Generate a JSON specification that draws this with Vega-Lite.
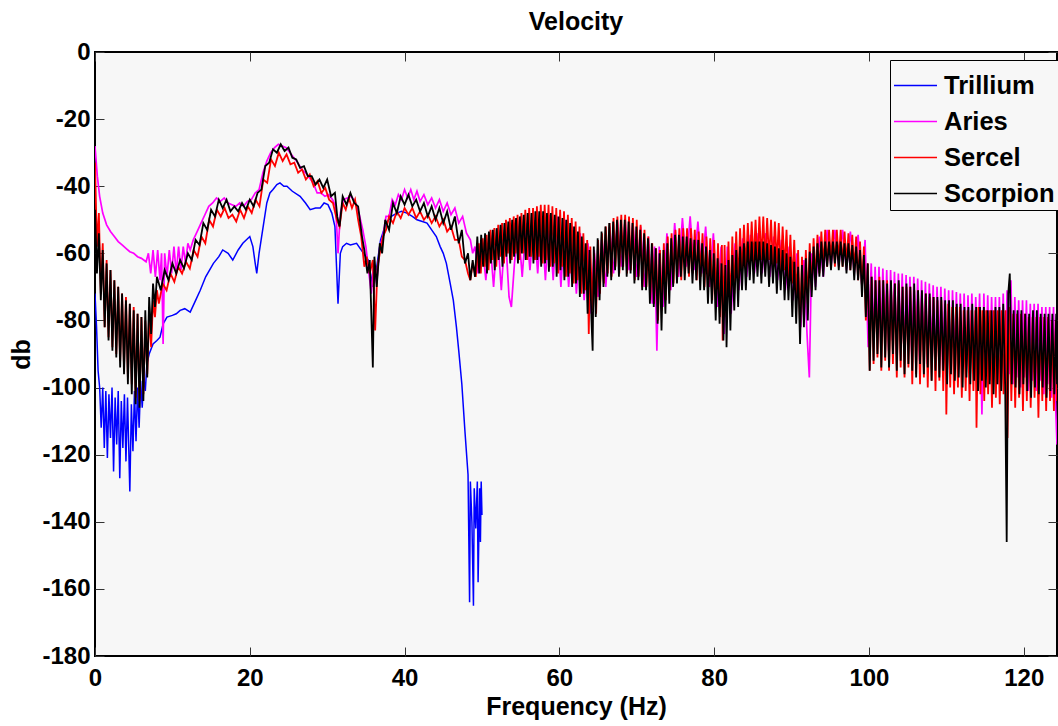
{
"$schema": "https://vega.github.io/schema/vega-lite/v6.json",
"width": 962,
"height": 604,
"autosize": "none",
"padding": {"left": 95, "top": 52, "right": 1, "bottom": 70},
"background": "white",
"title": {"text": "Velocity", "font": "Liberation Sans", "fontSize": 25, "fontWeight": "bold", "color": "black", "anchor": "middle", "baseline": "alphabetic", "offset": -15},
"config": {"view": {"fill": "#f7f7f7", "stroke": "black", "strokeWidth": 2}},
"datasets": {
"trillium": [
{"f":0,"v":-72},{"f":0.2,"v":-82},{"f":0.4,"v":-95},{"f":0.6,"v":-100},{"f":0.8,"v":-112},{"f":1.0,"v":-100},{"f":1.2,"v":-118},{"f":1.4,"v":-101},{"f":1.6,"v":-121},{"f":1.8,"v":-102},{"f":2.0,"v":-115},{"f":2.2,"v":-100},{"f":2.4,"v":-125},{"f":2.6,"v":-103},{"f":2.8,"v":-117},{"f":3.0,"v":-101},{"f":3.2,"v":-127},{"f":3.4,"v":-104},{"f":3.6,"v":-118},{"f":3.8,"v":-102},{"f":4.0,"v":-122},{"f":4.2,"v":-103},{"f":4.5,"v":-131},{"f":4.7,"v":-105},{"f":4.9,"v":-119},{"f":5.1,"v":-101},{"f":5.3,"v":-116},{"f":5.5,"v":-100},{"f":5.7,"v":-112},{"f":5.9,"v":-98},{"f":6.1,"v":-106},{"f":6.3,"v":-97},{"f":6.5,"v":-101},{"f":6.7,"v":-93},{"f":7.0,"v":-90},{"f":7.5,"v":-87},{"f":8.0,"v":-86},{"f":8.4,"v":-85},{"f":8.8,"v":-81},{"f":9.3,"v":-79},{"f":10.0,"v":-78.5},{"f":10.5,"v":-78},{"f":11.0,"v":-77},{"f":11.6,"v":-76.5},{"f":12.3,"v":-77.5},{"f":13.0,"v":-74},{"f":13.6,"v":-71},{"f":14.3,"v":-67},{"f":15.3,"v":-63},{"f":16.0,"v":-61},{"f":16.5,"v":-59},{"f":17.2,"v":-60},{"f":17.8,"v":-62},{"f":18.5,"v":-59},{"f":19.1,"v":-57},{"f":20.0,"v":-55},{"f":20.4,"v":-58},{"f":20.7,"v":-63},{"f":20.9,"v":-66},{"f":21.2,"v":-60},{"f":21.6,"v":-54},{"f":22.2,"v":-45},{"f":22.6,"v":-42},{"f":23.0,"v":-41},{"f":23.5,"v":-39.5},{"f":23.9,"v":-39},{"f":24.4,"v":-40},{"f":24.8,"v":-40},{"f":25.5,"v":-41.5},{"f":26.5,"v":-43},{"f":27.2,"v":-45},{"f":27.8,"v":-47},{"f":28.5,"v":-46.5},{"f":29.1,"v":-46.5},{"f":29.6,"v":-45},{"f":30.1,"v":-45.5},{"f":30.6,"v":-48},{"f":31.0,"v":-52},{"f":31.4,"v":-75},{"f":31.7,"v":-60},{"f":32.0,"v":-58},{"f":32.5,"v":-57},{"f":33.0,"v":-57.5},{"f":33.8,"v":-57},{"f":34.7,"v":-60},{"f":35.3,"v":-62},{"f":35.9,"v":-70},{"f":36.4,"v":-64},{"f":36.9,"v":-56},{"f":37.6,"v":-51},{"f":38.3,"v":-49},{"f":39.0,"v":-48},{"f":39.6,"v":-47.5},{"f":40.3,"v":-48},{"f":41.0,"v":-49},{"f":41.6,"v":-50},{"f":42.3,"v":-50.5},{"f":42.9,"v":-51},{"f":43.5,"v":-53},{"f":44.1,"v":-55},{"f":44.6,"v":-58},{"f":45.0,"v":-60},{"f":45.4,"v":-63},{"f":45.9,"v":-69},{"f":46.3,"v":-74},{"f":46.7,"v":-82},{"f":47.0,"v":-89},{"f":47.4,"v":-99},{"f":47.8,"v":-113},{"f":48.2,"v":-126},{"f":48.4,"v":-164},{"f":48.5,"v":-128},{"f":48.7,"v":-140},{"f":48.9,"v":-165},{"f":49.0,"v":-130},{"f":49.2,"v":-142},{"f":49.4,"v":-128},{"f":49.5,"v":-158},{"f":49.7,"v":-130},{"f":49.8,"v":-146},{"f":49.9,"v":-128},{"f":50.0,"v":-138}
],
"aries": [
{"f":0,"v":-28},{"f":0.3,"v":-37},{"f":0.6,"v":-43},{"f":1.0,"v":-48},{"f":1.5,"v":-51.5},{"f":2.0,"v":-53.5},{"f":2.5,"v":-55},{"f":3.0,"v":-56.5},{"f":3.5,"v":-57.5},{"f":4.0,"v":-58.5},{"f":4.5,"v":-59.5},{"f":5.0,"v":-60},{"f":5.5,"v":-61},{"f":6.0,"v":-61.5},{"f":6.6,"v":-62.5},{"f":6.9,"v":-60},{"f":7.2,"v":-66},{"f":7.5,"v":-59},{"f":7.8,"v":-67},{"f":8.1,"v":-59},{"f":8.4,"v":-68},{"f":8.6,"v":-60},{"f":8.8,"v":-87},{"f":9.0,"v":-60},{"f":9.3,"v":-67},{"f":9.6,"v":-59},{"f":9.9,"v":-66},{"f":10.2,"v":-58},{"f":10.5,"v":-66},{"f":10.8,"v":-58},{"f":11.1,"v":-65},{"f":11.4,"v":-58},{"f":11.7,"v":-63},{"f":12.0,"v":-57},{"f":12.3,"v":-59},{"f":12.7,"v":-56},{"f":13.2,"v":-53.5},{"f":13.7,"v":-51},{"f":14.2,"v":-48.5},{"f":14.7,"v":-46},{"f":15.2,"v":-45},{"f":15.7,"v":-43.5},{"f":16.2,"v":-44.5},{"f":16.7,"v":-43.5},{"f":17.2,"v":-45},{"f":17.7,"v":-45.5},{"f":18.2,"v":-46},{"f":18.7,"v":-45},{"f":19.2,"v":-46},{"f":19.7,"v":-44.5},{"f":20.2,"v":-44},{"f":20.7,"v":-42},{"f":21.2,"v":-41},{"f":21.7,"v":-36},{"f":22.2,"v":-32.5},{"f":22.7,"v":-30},{"f":23.2,"v":-28.5},{"f":23.7,"v":-27.5},{"f":24.2,"v":-28},{"f":24.7,"v":-28.5},{"f":25.2,"v":-30},{"f":25.7,"v":-31.5},{"f":26.2,"v":-33},{"f":26.7,"v":-35},{"f":27.2,"v":-36},{"f":27.7,"v":-37.5},{"f":28.2,"v":-39},{"f":28.7,"v":-42},{"f":29.2,"v":-42},{"f":29.7,"v":-43},{"f":30.2,"v":-42.5},{"f":30.7,"v":-44},{"f":31.1,"v":-46},{"f":31.4,"v":-60},{"f":31.7,"v":-48},{"f":32.1,"v":-44},{"f":32.6,"v":-43.5},{"f":33.1,"v":-43},{"f":33.6,"v":-44.5},{"f":34.1,"v":-48},{"f":34.6,"v":-53},{"f":35.0,"v":-58},{"f":35.4,"v":-66},{"f":35.7,"v":-72},{"f":36.0,"v":-63},{"f":36.4,"v":-69},{"f":36.8,"v":-58},{"f":37.2,"v":-55},{"f":37.6,"v":-49},{"f":38.0,"v":-49},{"f":38.4,"v":-44},{"f":38.8,"v":-45.5},{"f":39.2,"v":-42.5},{"f":39.6,"v":-44},{"f":40.0,"v":-41},{"f":40.4,"v":-43.5},{"f":40.8,"v":-41},{"f":41.2,"v":-44},{"f":41.6,"v":-41.5},{"f":42.0,"v":-44.5},{"f":42.5,"v":-42.5},{"f":43.0,"v":-45.5},{"f":43.5,"v":-43.5},{"f":44.0,"v":-46.5},{"f":44.5,"v":-44},{"f":45.0,"v":-47.5},{"f":45.5,"v":-45},{"f":46.0,"v":-48.5},{"f":46.5,"v":-46.5},{"f":47.0,"v":-51},{"f":47.5,"v":-49},{"f":48.0,"v":-54},{"f":48.5,"v":-56},{"f":48.8,"v":-60},{"f":49.1,"v":-58},{"f":49.5,"v":-66},{"f":50.0,"v":-56},{"f":50.5,"v":-68},{"f":51.0,"v":-55},{"f":51.5,"v":-70},{"f":52.0,"v":-54},{"f":52.5,"v":-71},{"f":53.0,"v":-53},{"f":53.5,"v":-73},{"f":53.8,"v":-76},{"f":54.2,"v":-63},{"f":54.7,"v":-52},{"f":55.2,"v":-67},{"f":55.7,"v":-51},{"f":56.2,"v":-65},{"f":56.7,"v":-50},{"f":57.2,"v":-66},{"f":57.7,"v":-49},{"f":58.2,"v":-68},{"f":58.7,"v":-48.5},{"f":59.2,"v":-68},{"f":59.7,"v":-49},{"f":60.2,"v":-70},{"f":60.7,"v":-50},{"f":61.2,"v":-70},{"f":61.7,"v":-52},{"f":62.2,"v":-72},{"f":62.7,"v":-54},{"f":63.2,"v":-74},{"f":63.7,"v":-57},{"f":64.1,"v":-78},{"f":64.5,"v":-59},{"f":65.0,"v":-73},{"f":65.5,"v":-55},{"f":66.0,"v":-70},{"f":66.5,"v":-52},{"f":67.0,"v":-66},{"f":67.5,"v":-50.5},{"f":68.0,"v":-64},{"f":68.5,"v":-50},{"f":69.0,"v":-65},{"f":69.5,"v":-50.5},{"f":70.0,"v":-67},{"f":70.5,"v":-52},{"f":71.0,"v":-70},{"f":71.5,"v":-55},{"f":72.0,"v":-75},{"f":72.3,"v":-58},{"f":72.6,"v":-89},{"f":72.9,"v":-58},{"f":73.4,"v":-76},{"f":73.9,"v":-54},{"f":74.4,"v":-71},{"f":74.9,"v":-51},{"f":75.4,"v":-67},{"f":75.9,"v":-49.5},{"f":76.4,"v":-64},{"f":76.9,"v":-49},{"f":77.4,"v":-65},{"f":77.9,"v":-50.5},{"f":78.4,"v":-66},{"f":78.9,"v":-52},{"f":79.4,"v":-70},{"f":79.9,"v":-54},{"f":80.4,"v":-76},{"f":80.9,"v":-58},{"f":81.3,"v":-84},{"f":81.7,"v":-58},{"f":82.2,"v":-78},{"f":82.7,"v":-57},{"f":83.2,"v":-71},{"f":83.7,"v":-55.5},{"f":84.2,"v":-67},{"f":84.7,"v":-54.5},{"f":85.2,"v":-66},{"f":85.7,"v":-54},{"f":86.2,"v":-66},{"f":86.7,"v":-54},{"f":87.2,"v":-67},{"f":87.7,"v":-55},{"f":88.2,"v":-68},{"f":88.7,"v":-56},{"f":89.2,"v":-71},{"f":89.7,"v":-58},{"f":90.2,"v":-74},{"f":90.7,"v":-60},{"f":91.2,"v":-82},{"f":91.6,"v":-62},{"f":92.0,"v":-84},{"f":92.3,"v":-97},{"f":92.6,"v":-60},{"f":93.1,"v":-70},{"f":93.6,"v":-55},{"f":94.1,"v":-67},{"f":94.6,"v":-53},{"f":95.1,"v":-64},{"f":95.6,"v":-53},{"f":96.1,"v":-64},{"f":96.6,"v":-53},{"f":97.1,"v":-65},{"f":97.6,"v":-53.5},{"f":98.1,"v":-66},{"f":98.6,"v":-54.5},{"f":99.1,"v":-70},{"f":99.5,"v":-56},{"f":99.9,"v":-88},
{"f":100.3,"v":-63},{"f":100.55,"v":-86},{"f":100.8,"v":-64},{"f":101.05,"v":-84},{"f":101.3,"v":-64},{"f":101.55,"v":-88},{"f":101.8,"v":-64.5},{"f":102.05,"v":-85},{"f":102.3,"v":-65},{"f":102.55,"v":-89},{"f":102.8,"v":-65},{"f":103.05,"v":-86},{"f":103.3,"v":-65.5},{"f":103.55,"v":-90},{"f":103.8,"v":-66},{"f":104.05,"v":-86},{"f":104.3,"v":-66},{"f":104.55,"v":-91},{"f":104.8,"v":-66.5},{"f":105.05,"v":-87},{"f":105.3,"v":-67},{"f":105.55,"v":-92},{"f":105.8,"v":-67},{"f":106.05,"v":-88},{"f":106.3,"v":-67.5},{"f":106.55,"v":-92},{"f":106.8,"v":-68},{"f":107.05,"v":-89},{"f":107.3,"v":-68.5},{"f":107.55,"v":-93},{"f":107.8,"v":-69},{"f":108.05,"v":-90},{"f":108.3,"v":-69.5},{"f":108.55,"v":-94},{"f":108.8,"v":-70},{"f":109.05,"v":-90},{"f":109.3,"v":-70},{"f":109.55,"v":-95},{"f":109.8,"v":-70.5},{"f":110.05,"v":-91},{"f":110.3,"v":-71},{"f":110.55,"v":-96},{"f":110.8,"v":-71},{"f":111.05,"v":-92},{"f":111.3,"v":-71.5},{"f":111.55,"v":-96},{"f":111.8,"v":-72},{"f":112.05,"v":-93},{"f":112.3,"v":-72},{"f":112.55,"v":-97},{"f":112.8,"v":-72.5},{"f":113.05,"v":-93},{"f":113.3,"v":-72},{"f":113.55,"v":-98},{"f":113.8,"v":-73},{"f":114.05,"v":-94},{"f":114.3,"v":-72},{"f":114.6,"v":-108},{"f":114.85,"v":-72},{"f":115.1,"v":-95},{"f":115.35,"v":-72.5},{"f":115.6,"v":-98},{"f":115.85,"v":-73},{"f":116.1,"v":-95},{"f":116.35,"v":-73},{"f":116.6,"v":-99},{"f":116.85,"v":-73},{"f":117.1,"v":-96},{"f":117.35,"v":-72},{"f":117.6,"v":-99},{"f":117.85,"v":-71},{"f":118.1,"v":-96},{"f":118.35,"v":-68},{"f":118.6,"v":-99},{"f":118.85,"v":-73},{"f":119.1,"v":-97},{"f":119.35,"v":-74},{"f":119.6,"v":-100},{"f":119.85,"v":-74},{"f":120.1,"v":-97},{"f":120.35,"v":-74},{"f":120.6,"v":-101},{"f":120.85,"v":-75},{"f":121.1,"v":-98},{"f":121.35,"v":-75},{"f":121.6,"v":-101},{"f":121.85,"v":-75},{"f":122.1,"v":-98},{"f":122.35,"v":-76},{"f":122.6,"v":-102},{"f":122.85,"v":-76},{"f":123.1,"v":-99},{"f":123.35,"v":-76},{"f":123.6,"v":-103},{"f":123.85,"v":-76},{"f":124.1,"v":-104},{"f":124.3,"v":-117}
],
"sercel": [
{"f":0,"v":-33},{"f":0.25,"v":-58},{"f":0.5,"v":-48},{"f":0.75,"v":-72},{"f":1.0,"v":-57},{"f":1.25,"v":-82},{"f":1.5,"v":-62},{"f":1.75,"v":-85},{"f":2.0,"v":-65},{"f":2.25,"v":-88},{"f":2.5,"v":-68},{"f":2.75,"v":-90},{"f":3.0,"v":-70},{"f":3.25,"v":-92},{"f":3.5,"v":-72},{"f":3.75,"v":-94},{"f":4.0,"v":-73},{"f":4.25,"v":-97},{"f":4.5,"v":-75},{"f":4.75,"v":-99},{"f":5.0,"v":-76},{"f":5.25,"v":-103},{"f":5.5,"v":-78},{"f":5.75,"v":-104},{"f":6.0,"v":-79},{"f":6.25,"v":-102},{"f":6.5,"v":-80},{"f":6.75,"v":-96},{"f":7.0,"v":-78},{"f":7.25,"v":-88},{"f":7.5,"v":-74},{"f":7.75,"v":-79},{"f":8.0,"v":-71},{"f":8.25,"v":-75},{"f":8.75,"v":-69},{"f":9.25,"v":-71},{"f":9.75,"v":-66},{"f":10.25,"v":-68.5},{"f":10.75,"v":-64},{"f":11.25,"v":-66},{"f":11.75,"v":-62.5},{"f":12.25,"v":-64.5},{"f":12.75,"v":-59},{"f":13.25,"v":-61},{"f":13.75,"v":-55},{"f":14.25,"v":-57},{"f":14.75,"v":-50},{"f":15.25,"v":-52},{"f":15.75,"v":-47},{"f":16.25,"v":-49},{"f":16.75,"v":-46.5},{"f":17.25,"v":-49.5},{"f":17.75,"v":-48.5},{"f":18.25,"v":-50.5},{"f":18.75,"v":-47},{"f":19.25,"v":-49.5},{"f":19.75,"v":-46},{"f":20.25,"v":-48},{"f":20.75,"v":-44},{"f":21.25,"v":-46},{"f":21.75,"v":-38},{"f":22.25,"v":-39},{"f":22.75,"v":-32},{"f":23.25,"v":-34},{"f":23.75,"v":-30},{"f":24.25,"v":-32.5},{"f":24.75,"v":-30.5},{"f":25.25,"v":-33.5},{"f":25.75,"v":-33},{"f":26.25,"v":-36},{"f":26.75,"v":-35},{"f":27.25,"v":-38},{"f":27.75,"v":-36.5},{"f":28.25,"v":-40},{"f":28.75,"v":-38.5},{"f":29.25,"v":-42},{"f":29.75,"v":-40.5},{"f":30.25,"v":-44},{"f":30.75,"v":-45},{"f":31.25,"v":-50},{"f":31.6,"v":-52},{"f":32.0,"v":-45},{"f":32.4,"v":-47},{"f":32.8,"v":-43.5},{"f":33.2,"v":-46.5},{"f":33.6,"v":-44},{"f":34.0,"v":-50},{"f":34.4,"v":-55},{"f":34.8,"v":-64},{"f":35.1,"v":-61},{"f":35.5,"v":-66},{"f":35.9,"v":-62},{"f":36.2,"v":-83},{"f":36.5,"v":-64},{"f":36.8,"v":-60},{"f":37.2,"v":-55},{"f":37.6,"v":-53},{"f":38.0,"v":-49},{"f":38.5,"v":-51},{"f":39.0,"v":-47.5},{"f":39.5,"v":-49.5},{"f":40.0,"v":-46.5},{"f":40.5,"v":-48.5},{"f":41.0,"v":-46.5},{"f":41.5,"v":-49.5},{"f":42.0,"v":-47.5},{"f":42.5,"v":-50},{"f":43.0,"v":-48.5},{"f":43.5,"v":-51},{"f":44.0,"v":-49},{"f":44.5,"v":-52},{"f":45.0,"v":-50},{"f":45.5,"v":-53.5},{"f":46.0,"v":-52},{"f":46.5,"v":-56},{"f":47.0,"v":-56},{"f":47.4,"v":-61},{"f":47.8,"v":-62},{"f":48.2,"v":-66},{"f":48.5,"v":-68},{"f":48.8,"v":-63},{"f":49.2,"v":-67},
{"f":49.6,"v":-57},{"f":49.85,"v":-66},{"f":50.1,"v":-55.5},{"f":50.35,"v":-64},{"f":50.6,"v":-54.5},{"f":50.85,"v":-65},{"f":51.1,"v":-53},{"f":51.35,"v":-62},{"f":51.6,"v":-52.5},{"f":51.85,"v":-64},{"f":52.1,"v":-51.5},{"f":52.35,"v":-61},{"f":52.6,"v":-51},{"f":52.85,"v":-63},{"f":53.1,"v":-50},{"f":53.35,"v":-60},{"f":53.6,"v":-49.5},{"f":53.85,"v":-62},{"f":54.1,"v":-49},{"f":54.35,"v":-60},{"f":54.6,"v":-48.5},{"f":54.85,"v":-62},{"f":55.1,"v":-48},{"f":55.35,"v":-60},{"f":55.6,"v":-47},{"f":55.85,"v":-62},{"f":56.1,"v":-46.5},{"f":56.35,"v":-61},{"f":56.6,"v":-46.5},{"f":56.85,"v":-62},{"f":57.1,"v":-46},{"f":57.35,"v":-61},{"f":57.6,"v":-45.5},{"f":57.85,"v":-63},{"f":58.1,"v":-45.5},{"f":58.35,"v":-62},{"f":58.6,"v":-45.5},{"f":58.85,"v":-64},{"f":59.1,"v":-46},{"f":59.35,"v":-63},{"f":59.6,"v":-46.5},{"f":59.85,"v":-66},{"f":60.1,"v":-47},{"f":60.35,"v":-64},{"f":60.6,"v":-47.5},{"f":60.85,"v":-67},{"f":61.1,"v":-48.5},{"f":61.35,"v":-66},{"f":61.6,"v":-49.5},{"f":61.85,"v":-69},{"f":62.1,"v":-50.5},{"f":62.35,"v":-68},{"f":62.6,"v":-52},{"f":62.85,"v":-72},{"f":63.1,"v":-54},{"f":63.35,"v":-71},{"f":63.6,"v":-56},{"f":63.8,"v":-84},{"f":64.0,"v":-58},{"f":64.25,"v":-77},{"f":64.5,"v":-60},{"f":64.75,"v":-78},{"f":65.0,"v":-56},{"f":65.25,"v":-72},{"f":65.5,"v":-54},{"f":65.75,"v":-69},{"f":66.0,"v":-52},{"f":66.25,"v":-66},{"f":66.5,"v":-51},{"f":66.75,"v":-67},{"f":67.0,"v":-49.5},{"f":67.25,"v":-64},{"f":67.5,"v":-49},{"f":67.75,"v":-66},{"f":68.0,"v":-48.5},{"f":68.25,"v":-64},{"f":68.5,"v":-48.5},{"f":68.75,"v":-66},{"f":69.0,"v":-49},{"f":69.25,"v":-65},{"f":69.5,"v":-49.5},{"f":69.75,"v":-68},{"f":70.0,"v":-50},{"f":70.25,"v":-67},{"f":70.5,"v":-51.5},{"f":70.75,"v":-70},{"f":71.0,"v":-53},{"f":71.25,"v":-70},{"f":71.5,"v":-55},{"f":71.75,"v":-74},{"f":72.0,"v":-57},{"f":72.25,"v":-75},{"f":72.5,"v":-58.5},{"f":72.75,"v":-80},{"f":73.0,"v":-59},{"f":73.25,"v":-77},{"f":73.5,"v":-57},{"f":73.75,"v":-74},{"f":74.0,"v":-55},{"f":74.25,"v":-71},{"f":74.5,"v":-54},{"f":74.75,"v":-69},{"f":75.0,"v":-53},{"f":75.25,"v":-67},{"f":75.5,"v":-52.5},{"f":75.75,"v":-68},{"f":76.0,"v":-52.5},{"f":76.25,"v":-66},{"f":76.5,"v":-52.5},{"f":76.75,"v":-67},{"f":77.0,"v":-52.5},{"f":77.25,"v":-66},{"f":77.5,"v":-53},{"f":77.75,"v":-68},{"f":78.0,"v":-53.5},{"f":78.25,"v":-67},{"f":78.5,"v":-54},{"f":78.75,"v":-70},{"f":79.0,"v":-55},{"f":79.25,"v":-70},{"f":79.5,"v":-55.5},{"f":79.75,"v":-74},{"f":80.0,"v":-56},{"f":80.25,"v":-74},{"f":80.5,"v":-57},{"f":80.75,"v":-79},{"f":81.0,"v":-57.5},{"f":81.1,"v":-86},{"f":81.35,"v":-57.5},{"f":81.6,"v":-79},{"f":81.85,"v":-56.5},{"f":82.1,"v":-76},{"f":82.35,"v":-55},{"f":82.6,"v":-72},{"f":82.85,"v":-53.5},{"f":83.1,"v":-69},{"f":83.35,"v":-52.5},{"f":83.6,"v":-67},{"f":83.85,"v":-51.5},{"f":84.1,"v":-65},{"f":84.35,"v":-51},{"f":84.6,"v":-64},{"f":84.85,"v":-50.5},{"f":85.1,"v":-63},{"f":85.35,"v":-50},{"f":85.6,"v":-63},{"f":85.85,"v":-49},{"f":86.1,"v":-62},{"f":86.35,"v":-49},{"f":86.6,"v":-63},{"f":86.85,"v":-49.5},{"f":87.1,"v":-62},{"f":87.35,"v":-50},{"f":87.6,"v":-64},{"f":87.85,"v":-50.5},{"f":88.1,"v":-63},{"f":88.35,"v":-51},{"f":88.6,"v":-66},{"f":88.85,"v":-52},{"f":89.1,"v":-65},{"f":89.35,"v":-53},{"f":89.6,"v":-68},{"f":89.85,"v":-54.5},{"f":90.1,"v":-69},{"f":90.35,"v":-56},{"f":90.6,"v":-74},{"f":90.85,"v":-59},{"f":91.1,"v":-82},{"f":91.35,"v":-61},{"f":91.6,"v":-79},{"f":91.85,"v":-59},{"f":92.1,"v":-75},{"f":92.35,"v":-57},{"f":92.6,"v":-71},{"f":92.85,"v":-55.5},{"f":93.1,"v":-68},{"f":93.35,"v":-54.5},{"f":93.6,"v":-66},{"f":93.85,"v":-53.5},{"f":94.1,"v":-64},{"f":94.35,"v":-53},{"f":94.6,"v":-64},{"f":94.85,"v":-53},{"f":95.1,"v":-62},{"f":95.35,"v":-53},{"f":95.6,"v":-64},{"f":95.85,"v":-53},{"f":96.1,"v":-62},{"f":96.35,"v":-53},{"f":96.6,"v":-64},{"f":96.85,"v":-53.5},{"f":97.1,"v":-63},{"f":97.35,"v":-54},{"f":97.6,"v":-65},{"f":97.85,"v":-54.5},{"f":98.1,"v":-65},{"f":98.35,"v":-55},{"f":98.6,"v":-68},{"f":98.85,"v":-56.5},{"f":99.1,"v":-70},{"f":99.35,"v":-58},{"f":99.6,"v":-80},{"f":99.85,"v":-63},{"f":100.1,"v":-95},
{"f":100.35,"v":-67},{"f":100.6,"v":-93},{"f":100.85,"v":-68},{"f":101.1,"v":-91},{"f":101.35,"v":-67},{"f":101.6,"v":-95},{"f":101.85,"v":-68},{"f":102.1,"v":-92},{"f":102.35,"v":-68},{"f":102.6,"v":-95},{"f":102.85,"v":-69},{"f":103.1,"v":-93},{"f":103.35,"v":-69},{"f":103.6,"v":-97},{"f":103.85,"v":-69},{"f":104.1,"v":-94},{"f":104.35,"v":-70},{"f":104.6,"v":-97},{"f":104.85,"v":-70},{"f":105.1,"v":-94},{"f":105.35,"v":-70},{"f":105.6,"v":-99},{"f":105.85,"v":-71},{"f":106.1,"v":-96},{"f":106.35,"v":-71},{"f":106.6,"v":-99},{"f":106.85,"v":-72},{"f":107.1,"v":-97},{"f":107.35,"v":-72},{"f":107.6,"v":-100},{"f":107.85,"v":-73},{"f":108.1,"v":-98},{"f":108.35,"v":-73},{"f":108.6,"v":-101},{"f":108.85,"v":-74},{"f":109.1,"v":-98},{"f":109.35,"v":-74},{"f":109.6,"v":-101},{"f":109.85,"v":-75},{"f":110.0,"v":-108},{"f":110.25,"v":-75},{"f":110.5,"v":-100},{"f":110.75,"v":-76},{"f":111.0,"v":-102},{"f":111.25,"v":-76},{"f":111.5,"v":-100},{"f":111.75,"v":-76},{"f":112.0,"v":-103},{"f":112.25,"v":-77},{"f":112.5,"v":-101},{"f":112.75,"v":-77},{"f":113.0,"v":-104},{"f":113.25,"v":-77},{"f":113.5,"v":-101},{"f":113.75,"v":-77},{"f":113.9,"v":-112},{"f":114.15,"v":-76},{"f":114.4,"v":-102},{"f":114.65,"v":-77},{"f":114.9,"v":-104},{"f":115.15,"v":-77},{"f":115.4,"v":-102},{"f":115.65,"v":-77},{"f":115.9,"v":-106},{"f":116.15,"v":-77},{"f":116.4,"v":-103},{"f":116.65,"v":-77},{"f":116.9,"v":-105},{"f":117.15,"v":-77},{"f":117.4,"v":-102},{"f":117.65,"v":-77},{"f":117.9,"v":-115},{"f":118.15,"v":-76},{"f":118.4,"v":-104},{"f":118.65,"v":-78},{"f":118.9,"v":-106},{"f":119.15,"v":-78},{"f":119.4,"v":-103},{"f":119.65,"v":-78},{"f":119.9,"v":-107},{"f":120.15,"v":-78},{"f":120.4,"v":-104},{"f":120.65,"v":-79},{"f":120.9,"v":-106},{"f":121.15,"v":-79},{"f":121.4,"v":-103},{"f":121.65,"v":-79},{"f":121.9,"v":-109},{"f":122.15,"v":-79},{"f":122.4,"v":-104},{"f":122.65,"v":-79},{"f":122.9,"v":-107},{"f":123.15,"v":-79},{"f":123.4,"v":-104},{"f":123.65,"v":-80},{"f":123.9,"v":-107},{"f":124.15,"v":-80},{"f":124.3,"v":-104}
],
"scorpion": [
{"f":0,"v":-47},{"f":0.25,"v":-66},{"f":0.5,"v":-54},{"f":0.75,"v":-74},{"f":1.0,"v":-59},{"f":1.25,"v":-82},{"f":1.5,"v":-63},{"f":1.75,"v":-86},{"f":2.0,"v":-65},{"f":2.25,"v":-89},{"f":2.5,"v":-68},{"f":2.75,"v":-91},{"f":3.0,"v":-70},{"f":3.25,"v":-94},{"f":3.5,"v":-72},{"f":3.75,"v":-96},{"f":4.0,"v":-74},{"f":4.25,"v":-99},{"f":4.5,"v":-75},{"f":4.75,"v":-102},{"f":5.0,"v":-77},{"f":5.25,"v":-105},{"f":5.5,"v":-78},{"f":5.75,"v":-106},{"f":6.0,"v":-79},{"f":6.25,"v":-104},{"f":6.5,"v":-77},{"f":6.75,"v":-97},{"f":7.0,"v":-73},{"f":7.25,"v":-84},{"f":7.5,"v":-69},{"f":7.75,"v":-76},{"f":8.0,"v":-67},{"f":8.5,"v":-71},{"f":9.0,"v":-65},{"f":9.5,"v":-68},{"f":10.0,"v":-63},{"f":10.5,"v":-66},{"f":11.0,"v":-62},{"f":11.5,"v":-64.5},{"f":12.0,"v":-60},{"f":12.5,"v":-62},{"f":13.0,"v":-56},{"f":13.5,"v":-57.5},{"f":14.0,"v":-51},{"f":14.5,"v":-53},{"f":15.0,"v":-47},{"f":15.5,"v":-49},{"f":16.0,"v":-44},{"f":16.5,"v":-46.5},{"f":17.0,"v":-44},{"f":17.5,"v":-47.5},{"f":18.0,"v":-46},{"f":18.5,"v":-47.5},{"f":19.0,"v":-45},{"f":19.5,"v":-47},{"f":20.0,"v":-44},{"f":20.5,"v":-46},{"f":21.0,"v":-42},{"f":21.5,"v":-41},{"f":22.0,"v":-34},{"f":22.5,"v":-33},{"f":23.0,"v":-29},{"f":23.5,"v":-30},{"f":24.0,"v":-27.5},{"f":24.5,"v":-29.5},{"f":25.0,"v":-28.5},{"f":25.5,"v":-31.5},{"f":26.0,"v":-32},{"f":26.5,"v":-34.5},{"f":27.0,"v":-34},{"f":27.5,"v":-37},{"f":28.0,"v":-37},{"f":28.5,"v":-39.5},{"f":29.0,"v":-38},{"f":29.5,"v":-40.5},{"f":30.0,"v":-38},{"f":30.5,"v":-43},{"f":31.0,"v":-42},{"f":31.3,"v":-49},{"f":31.6,"v":-52},{"f":32.0,"v":-43},{"f":32.5,"v":-45.5},{"f":33.0,"v":-42},{"f":33.5,"v":-45},{"f":34.0,"v":-46},{"f":34.5,"v":-55},{"f":34.8,"v":-59},{"f":35.2,"v":-66},{"f":35.5,"v":-62},{"f":35.9,"v":-94},{"f":36.1,"v":-61},{"f":36.4,"v":-70},{"f":36.8,"v":-57},{"f":37.1,"v":-60},{"f":37.5,"v":-50},{"f":38.0,"v":-53},{"f":38.5,"v":-45},{"f":39.0,"v":-48},{"f":39.5,"v":-43},{"f":40.0,"v":-45.5},{"f":40.5,"v":-42.5},{"f":41.0,"v":-46},{"f":41.5,"v":-44},{"f":42.0,"v":-47.5},{"f":42.5,"v":-45},{"f":43.0,"v":-49},{"f":43.5,"v":-46},{"f":44.0,"v":-50},{"f":44.5,"v":-46.5},{"f":45.0,"v":-51},{"f":45.5,"v":-47.5},{"f":46.0,"v":-53},{"f":46.5,"v":-49},{"f":47.0,"v":-57},{"f":47.4,"v":-53},{"f":47.8,"v":-63},{"f":48.2,"v":-60},{"f":48.5,"v":-68},{"f":48.8,"v":-62},{"f":49.1,"v":-67},
{"f":49.4,"v":-55},{"f":49.65,"v":-66},{"f":49.9,"v":-54.5},{"f":50.15,"v":-64},{"f":50.4,"v":-54},{"f":50.65,"v":-66},{"f":50.9,"v":-53.5},{"f":51.15,"v":-63},{"f":51.4,"v":-53},{"f":51.65,"v":-65},{"f":51.9,"v":-52.5},{"f":52.15,"v":-62},{"f":52.4,"v":-51.5},{"f":52.65,"v":-64},{"f":52.9,"v":-51},{"f":53.15,"v":-61},{"f":53.4,"v":-50.5},{"f":53.65,"v":-63},{"f":53.9,"v":-50},{"f":54.15,"v":-61},{"f":54.4,"v":-49.5},{"f":54.65,"v":-63},{"f":54.9,"v":-49},{"f":55.15,"v":-60},{"f":55.4,"v":-48.5},{"f":55.65,"v":-62},{"f":55.9,"v":-48},{"f":56.15,"v":-61},{"f":56.4,"v":-48},{"f":56.65,"v":-63},{"f":56.9,"v":-47.5},{"f":57.15,"v":-62},{"f":57.4,"v":-47.5},{"f":57.65,"v":-64},{"f":57.9,"v":-47.5},{"f":58.15,"v":-63},{"f":58.4,"v":-48},{"f":58.65,"v":-65.5},{"f":58.9,"v":-48},{"f":59.15,"v":-64},{"f":59.4,"v":-48.5},{"f":59.65,"v":-67},{"f":59.9,"v":-49},{"f":60.15,"v":-65},{"f":60.4,"v":-49.5},{"f":60.65,"v":-68},{"f":60.9,"v":-50},{"f":61.15,"v":-67},{"f":61.4,"v":-51},{"f":61.65,"v":-70},{"f":61.9,"v":-52},{"f":62.15,"v":-69},{"f":62.4,"v":-53.5},{"f":62.65,"v":-73},{"f":62.9,"v":-55},{"f":63.15,"v":-72},{"f":63.4,"v":-57},{"f":63.65,"v":-78},{"f":63.9,"v":-59},{"f":64.15,"v":-80},{"f":64.3,"v":-89},{"f":64.45,"v":-58},{"f":64.7,"v":-79},{"f":64.95,"v":-55.5},{"f":65.2,"v":-74},{"f":65.45,"v":-53.5},{"f":65.7,"v":-70},{"f":65.95,"v":-52},{"f":66.2,"v":-67},{"f":66.45,"v":-51},{"f":66.7,"v":-68},{"f":66.95,"v":-50.5},{"f":67.2,"v":-65},{"f":67.45,"v":-50},{"f":67.7,"v":-67},{"f":67.95,"v":-50},{"f":68.2,"v":-65},{"f":68.45,"v":-50},{"f":68.7,"v":-67},{"f":68.95,"v":-50.5},{"f":69.2,"v":-66},{"f":69.45,"v":-51},{"f":69.7,"v":-69},{"f":69.95,"v":-52},{"f":70.2,"v":-68},{"f":70.45,"v":-53},{"f":70.7,"v":-71},{"f":70.95,"v":-54},{"f":71.2,"v":-71},{"f":71.45,"v":-55.5},{"f":71.7,"v":-75},{"f":71.95,"v":-57},{"f":72.2,"v":-76},{"f":72.45,"v":-58.5},{"f":72.7,"v":-81},{"f":72.95,"v":-60},{"f":73.2,"v":-83},{"f":73.45,"v":-59},{"f":73.7,"v":-78},{"f":73.95,"v":-57},{"f":74.2,"v":-75},{"f":74.45,"v":-55.5},{"f":74.7,"v":-70},{"f":74.95,"v":-54.5},{"f":75.2,"v":-69},{"f":75.45,"v":-54.5},{"f":75.7,"v":-67},{"f":75.95,"v":-55},{"f":76.2,"v":-68},{"f":76.45,"v":-55},{"f":76.7,"v":-66},{"f":76.95,"v":-55.5},{"f":77.2,"v":-69},{"f":77.45,"v":-56},{"f":77.7,"v":-68},{"f":77.95,"v":-56},{"f":78.2,"v":-71},{"f":78.45,"v":-57},{"f":78.7,"v":-71},{"f":78.95,"v":-58},{"f":79.2,"v":-75},{"f":79.45,"v":-59},{"f":79.7,"v":-75},{"f":79.95,"v":-60},{"f":80.2,"v":-80},{"f":80.45,"v":-61.5},{"f":80.7,"v":-81},{"f":80.95,"v":-63},{"f":81.2,"v":-86},{"f":81.45,"v":-63.5},{"f":81.6,"v":-88},{"f":81.85,"v":-62},{"f":82.1,"v":-83},{"f":82.35,"v":-60.5},{"f":82.6,"v":-77},{"f":82.85,"v":-59},{"f":83.1,"v":-76},{"f":83.35,"v":-58},{"f":83.6,"v":-71},{"f":83.85,"v":-57},{"f":84.1,"v":-71},{"f":84.35,"v":-56.5},{"f":84.6,"v":-68},{"f":84.85,"v":-56.5},{"f":85.1,"v":-69},{"f":85.35,"v":-56.5},{"f":85.6,"v":-67},{"f":85.85,"v":-56.5},{"f":86.1,"v":-69},{"f":86.35,"v":-56.5},{"f":86.6,"v":-67},{"f":86.85,"v":-57},{"f":87.1,"v":-70},{"f":87.35,"v":-57.5},{"f":87.6,"v":-69},{"f":87.85,"v":-58},{"f":88.1,"v":-72},{"f":88.35,"v":-58.5},{"f":88.6,"v":-71},{"f":88.85,"v":-59},{"f":89.1,"v":-74},{"f":89.35,"v":-60},{"f":89.6,"v":-74},{"f":89.85,"v":-61},{"f":90.1,"v":-79},{"f":90.35,"v":-62.5},{"f":90.6,"v":-81},{"f":90.85,"v":-64},{"f":91.1,"v":-87},{"f":91.35,"v":-63.5},{"f":91.6,"v":-82},{"f":91.85,"v":-61.5},{"f":92.1,"v":-80},{"f":92.35,"v":-59.5},{"f":92.6,"v":-73},{"f":92.85,"v":-58},{"f":93.1,"v":-71},{"f":93.35,"v":-57},{"f":93.6,"v":-67},{"f":93.85,"v":-56.5},{"f":94.1,"v":-67},{"f":94.35,"v":-56.5},{"f":94.6,"v":-64},{"f":94.85,"v":-56.5},{"f":95.1,"v":-65},{"f":95.35,"v":-56.5},{"f":95.6,"v":-63},{"f":95.85,"v":-56.5},{"f":96.1,"v":-65},{"f":96.35,"v":-56.5},{"f":96.6,"v":-64},{"f":96.85,"v":-57},{"f":97.1,"v":-66},{"f":97.35,"v":-57},{"f":97.6,"v":-65},{"f":97.85,"v":-57.5},{"f":98.1,"v":-68},{"f":98.35,"v":-58},{"f":98.6,"v":-68},{"f":98.85,"v":-59},{"f":99.1,"v":-73},{"f":99.35,"v":-60.5},{"f":99.6,"v":-79},{"f":99.85,"v":-63},{"f":100.1,"v":-95},{"f":100.35,"v":-67},{"f":100.6,"v":-92},{"f":100.85,"v":-68},{"f":101.1,"v":-90},{"f":101.35,"v":-68},{"f":101.6,"v":-94},{"f":101.85,"v":-68},{"f":102.1,"v":-91},{"f":102.35,"v":-69},{"f":102.6,"v":-94},{"f":102.85,"v":-68},{"f":103.1,"v":-90},{"f":103.35,"v":-69},{"f":103.6,"v":-95},{"f":103.85,"v":-68},{"f":104.1,"v":-92},{"f":104.35,"v":-70},{"f":104.6,"v":-96},{"f":104.85,"v":-69},{"f":105.1,"v":-93},{"f":105.35,"v":-70},{"f":105.6,"v":-95},{"f":105.85,"v":-69},{"f":106.1,"v":-97},{"f":106.35,"v":-71},{"f":106.6,"v":-93},{"f":106.85,"v":-71},{"f":107.1,"v":-96},{"f":107.35,"v":-72},{"f":107.6,"v":-94},{"f":107.85,"v":-72},{"f":108.1,"v":-98},{"f":108.35,"v":-73},{"f":108.6,"v":-95},{"f":108.85,"v":-73},{"f":109.1,"v":-97},{"f":109.35,"v":-73},{"f":109.6,"v":-95},{"f":109.85,"v":-74},{"f":110.1,"v":-99},{"f":110.35,"v":-74},{"f":110.6,"v":-96},{"f":110.85,"v":-74},{"f":111.1,"v":-98},{"f":111.35,"v":-75},{"f":111.6,"v":-97},{"f":111.85,"v":-75},{"f":112.1,"v":-100},{"f":112.35,"v":-76},{"f":112.6,"v":-97},{"f":112.85,"v":-76},{"f":113.1,"v":-99},{"f":113.35,"v":-75},{"f":113.6,"v":-98},{"f":113.85,"v":-76},{"f":114.1,"v":-101},{"f":114.35,"v":-76},{"f":114.6,"v":-98},{"f":114.85,"v":-76},{"f":115.1,"v":-100},{"f":115.35,"v":-77},{"f":115.6,"v":-99},{"f":115.85,"v":-77},{"f":116.1,"v":-102},{"f":116.35,"v":-76},{"f":116.6,"v":-99},{"f":116.85,"v":-76},{"f":117.1,"v":-101},{"f":117.35,"v":-75},{"f":117.6,"v":-99},{"f":117.8,"v":-146},{"f":118.0,"v":-72},{"f":118.2,"v":-66},{"f":118.45,"v":-99},{"f":118.7,"v":-77},{"f":118.95,"v":-100},{"f":119.2,"v":-77},{"f":119.45,"v":-102},{"f":119.7,"v":-77},{"f":119.95,"v":-99},{"f":120.2,"v":-78},{"f":120.45,"v":-101},{"f":120.7,"v":-78},{"f":120.95,"v":-103},{"f":121.2,"v":-77},{"f":121.45,"v":-100},{"f":121.7,"v":-77},{"f":121.95,"v":-102},{"f":122.2,"v":-78},{"f":122.45,"v":-100},{"f":122.7,"v":-78},{"f":122.95,"v":-103},{"f":123.2,"v":-78},{"f":123.45,"v":-101},{"f":123.7,"v":-78},{"f":123.95,"v":-102},{"f":124.2,"v":-78},{"f":124.3,"v":-99}
]
},
"layer": [
{
"data": {"name": "trillium"},
"mark": {"type": "line", "strokeWidth": 1.5, "clip": true},
"encoding": {
"x": {"field": "f", "type": "quantitative", "scale": {"domain": [0, 124.3], "nice": false, "zero": false},
"axis": {"orient": "bottom", "values": [0, 20, 40, 60, 80, 100, 120], "title": "Frequency (Hz)", "titleFont": "Liberation Sans", "titleFontSize": 25, "titleFontWeight": "bold", "titleColor": "black", "titlePadding": 4, "labelFont": "Liberation Sans", "labelFontSize": 24, "labelFontWeight": "bold", "labelColor": "black", "labelPadding": 19, "labelFlush": false, "labelOverlap": false, "tickSize": -9, "tickColor": "#333333", "tickWidth": 1, "domain": false, "grid": false}},
"y": {"field": "v", "type": "quantitative", "scale": {"domain": [-180, 0], "nice": false, "zero": false},
"axis": {"orient": "left", "values": [-180, -160, -140, -120, -100, -80, -60, -40, -20, 0], "labelExpr": "'' + datum.value", "title": "db", "titleFont": "Liberation Sans", "titleFontSize": 25, "titleFontWeight": "bold", "titleColor": "black", "titlePadding": 7, "labelFont": "Liberation Sans", "labelFontSize": 24, "labelFontWeight": "bold", "labelColor": "black", "labelPadding": 14, "labelFlush": false, "labelOverlap": false, "tickSize": -9, "tickColor": "#333333", "tickWidth": 1, "domain": false, "grid": false}},
"color": {"datum": "Trillium", "type": "nominal",
"scale": {"domain": ["Trillium", "Aries", "Sercel", "Scorpion"], "range": ["#0000ff", "#ff00ff", "#ff0000", "#000000"]},
"legend": {"orient": "none", "legendX": 795, "legendY": 8, "title": null, "direction": "vertical", "strokeColor": "black", "fillColor": "#f7f7f7", "padding": 3, "labelFont": "Liberation Sans", "labelFontSize": 25.5, "labelFontWeight": "bold", "labelColor": "black", "labelOffset": 6, "rowPadding": 0, "symbolType": "stroke", "symbolSize": 1849, "symbolStrokeWidth": 1.5, "labelLimit": 300}}
}
},
{
"data": {"name": "aries"},
"mark": {"type": "line", "strokeWidth": 1.7, "clip": true},
"encoding": {
"x": {"field": "f", "type": "quantitative", "axis": null},
"y": {"field": "v", "type": "quantitative", "axis": null},
"color": {"datum": "Aries", "type": "nominal"}
}
},
{
"data": {"name": "sercel"},
"mark": {"type": "line", "strokeWidth": 1.8, "clip": true},
"encoding": {
"x": {"field": "f", "type": "quantitative", "axis": null},
"y": {"field": "v", "type": "quantitative", "axis": null},
"color": {"datum": "Sercel", "type": "nominal"}
}
},
{
"data": {"name": "scorpion"},
"mark": {"type": "line", "strokeWidth": 1.8, "clip": true},
"encoding": {
"x": {"field": "f", "type": "quantitative", "axis": null},
"y": {"field": "v", "type": "quantitative", "axis": null},
"color": {"datum": "Scorpion", "type": "nominal"}
}
},
{
"data": {"name": "trillium"},
"mark": {"type": "point", "opacity": 0},
"encoding": {
"x": {"field": "f", "type": "quantitative", "axis": {"orient": "top", "values": [0, 20, 40, 60, 80, 100, 120], "labels": false, "title": null, "tickSize": -9, "tickColor": "#333333", "tickWidth": 1, "domain": false, "grid": false}},
"y": {"field": "v", "type": "quantitative", "axis": {"orient": "right", "values": [-180, -160, -140, -120, -100, -80, -60, -40, -20, 0], "labels": false, "title": null, "tickSize": -9, "tickColor": "#333333", "tickWidth": 1, "domain": false, "grid": false}}
}
}
],
"resolve": {"axis": {"x": "independent", "y": "independent"}}
}
